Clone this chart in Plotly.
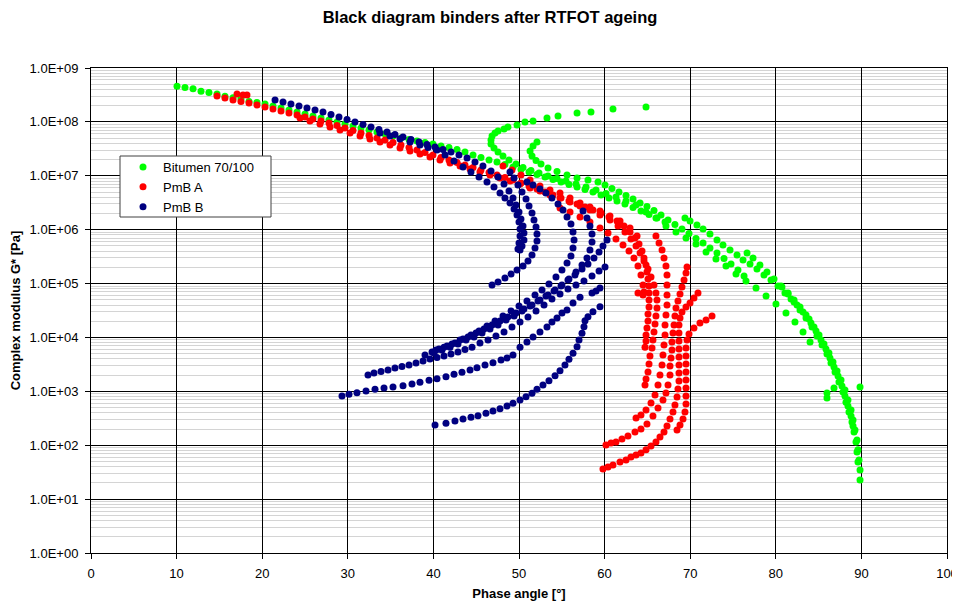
import plotly.graph_objects as go

# ---------------- data: (phase angle [deg], complex modulus G* [Pa]) ----------------
# Bitumen 70/100
bit_master = [(10.05,4.6e8),(10.98,4.35e8),(11.92,4.1e8),(12.85,3.7e8),(13.78,3.5e8),(14.72,3.3e8),(15.65,3.0e8),
              (16.59,2.8e8),(17.52,2.7e8),(18.46,2.4e8),(19.39,2.3e8),(20.33,2.15e8),(21.26,1.97e8),(22.2,1.81e8),
              (23.13,1.66e8),(24.07,1.53e8),(25.0,1.4e8),(25.93,1.29e8),(26.87,1.18e8),(27.8,1.08e8),(28.74,9.9e7),
              (29.67,9.15e7),(30.61,8.4e7),(31.54,7.7e7),(32.48,7.06e7),(33.41,6.5e7),(34.35,5.96e7),(35.28,5.47e7),
              (36.21,5.02e7),(37.15,4.72e7),(38.08,4.42e7),(39.02,4.15e7),(39.95,3.89e7),(40.89,3.57e7),(41.82,3.35e7),
              (42.76,3.07e7),(43.69,2.76e7),(44.63,2.43e7),(45.56,2.18e7),(46.5,1.96e7),(47.43,1.8e7),(48.36,1.62e7),
              (49.3,1.45e7),(50.23,1.31e7),(51.17,1.17e7),(52.1,1.06e7),(53.04,9.5e6),(53.97,8.5e6),(54.91,7.67e6),
              (55.84,6.9e6),(56.78,6.2e6),(57.71,5.57e6),(58.64,5.0e6),(59.58,4.4e6),(60.51,3.87e6),(61.45,3.4e6),
              (62.38,3.0e6),(63.32,2.58e6),(64.25,2.22e6),(65.19,1.91e6),(66.12,1.65e6),(67.06,1.39e6)]
bit_hook1 = [(64.84,1.89e8),(60.98,1.73e8),(58.41,1.53e8),(56.78,1.46e8),(54.56,1.29e8),(53.27,1.18e8),(51.64,1.04e8),
             (50.7,9.9e7),(49.77,8.77e7),(48.71,8.03e7),(48.25,7.37e7),(47.55,6.77e7),(47.2,6.22e7),(46.85,5.47e7),
             (46.73,4.62e7),(46.73,3.89e7),(47.08,3.28e7),(47.55,2.76e7),(48.13,2.33e7),(48.83,1.96e7),(49.65,1.65e7),
             (50.47,1.42e7),(51.4,1.25e7),(52.34,1.13e7),(53.39,9.86e6),(54.44,8.91e6),(55.49,7.98e6),(56.66,7.04e6),
             (57.83,6.19e6),(59.0,5.45e6),(60.16,4.69e6),(61.33,4.04e6),(62.5,3.4e6),(63.67,2.87e6),(64.84,2.13e6),
             (66.0,1.65e6),(67.17,1.17e6),(68.34,9.05e5),(69.51,7.0e5),(70.68,5.43e5),(71.85,3.85e5),(73.01,2.86e5),
             (74.18,2.12e5),(75.35,1.5e5),(76.52,1.12e5),(77.69,8.26e4),(78.86,5.88e4),(80.02,4.17e4),(81.19,2.84e4),
             (82.24,1.94e4),(83.18,1.26e4),(84.0,8.2e3)]
bit_hook2 = [(52.1,4.24e7),(51.64,3.57e7),(51.29,2.88e7),(51.52,2.33e7),(51.99,1.92e7),(52.57,1.65e7),(53.39,1.39e7),
             (54.44,1.2e7),(55.61,1.03e7),(56.78,9.1e6),(58.06,8.35e6),(59.23,7.67e6),(60.05,6.76e6),(60.86,5.81e6),
             (61.68,5.0e6),(62.5,4.3e6),(63.32,3.71e6),(64.14,3.13e6),(64.95,2.69e6),(65.77,2.27e6),(66.59,1.87e6),
             (67.41,1.51e6),(68.22,1.25e6),(69.04,1.03e6),(69.86,8.5e5),(70.68,6.85e5),(71.5,5.66e5),(72.31,4.56e5),
             (73.13,3.69e5),(73.95,2.92e5),(74.77,2.31e5),(75.58,1.78e5),(76.29,1.38e5)]
bit_iso_a = [(69.39,1.65e6),(69.98,1.45e6),(70.79,1.22e6),(71.5,1.03e6),(72.31,8.3e5),(73.13,6.43e5),(73.83,5.19e5),
             (74.65,4.19e5),(75.47,3.39e5),(76.17,2.74e5),(76.99,2.31e5),(77.8,1.86e5),(78.62,1.44e5),(79.44,1.16e5),
             (80.26,9.0e4),(81.07,6.7e4),(81.78,5.17e4),(82.48,4.0e4),(83.18,2.97e4),(83.88,2.2e4),(84.46,1.56e4),
             (85.05,1.11e4),(85.63,7.56e3),(86.21,5.15e3),(86.68,3.5e3),(87.15,2.38e3),(87.62,1.62e3),(88.08,1.06e3),
             (88.43,6.9e2),(88.79,4.5e2),(89.02,2.94e2),(89.25,1.92e2),(89.49,1.25e2),(89.6,8.2e1),(89.72,5.3e1),
             (89.84,3.47e1),(89.84,2.26e1)]
bit_iso_b = [(76.64,3.69e5),(77.34,2.98e5),(78.15,2.21e5),(78.97,1.64e5),(79.79,1.22e5),(80.61,9.0e4),(81.43,6.4e4),
             (82.13,4.54e4),(82.83,3.23e4),(83.53,2.3e4),(84.23,1.56e4),(84.81,1.06e4),(85.4,7.25e3),(85.98,4.93e3),
             (86.45,3.36e3),(86.92,2.29e3),(87.38,1.49e3),(87.85,9.7e2),(88.2,6.3e2),(88.55,4.14e2),(88.9,2.7e2),
             (89.14,1.76e2),(89.37,1.15e2),(89.49,7.5e1),(89.6,4.9e1)]
bit_iso_c = [(80.72,8.6e4),(81.43,6.7e4),(82.13,4.95e4),(82.83,3.68e4),(83.53,2.61e4),(84.11,1.85e4),(84.7,1.32e4),
             (85.28,8.97e3),(85.86,6.1e3),(86.33,4.16e3),(86.8,2.83e3),(87.27,1.93e3),(87.73,1.26e3),(88.08,8.2e2),
             (88.43,5.35e2),(88.79,3.49e2),(89.02,2.27e2)]
bit_single = [(89.84,1.2e3),(85.98,9.3e2),(85.98,7.5e2),(86.8,1.15e3)]

# PmB A
pma_master1 = [(14.72,3.02e8),(15.65,2.78e8),(16.59,2.55e8),(17.52,2.39e8),(18.46,2.24e8),(19.39,2.06e8),(20.33,1.89e8),
               (21.26,1.73e8),(22.2,1.59e8),(23.13,1.46e8),(24.07,1.34e8),(25.0,1.23e8),(25.93,1.13e8),(26.87,1.04e8),
               (27.8,9.5e7),(28.74,8.6e7),(29.67,7.7e7),(30.61,6.9e7),(31.54,6.2e7),(32.48,5.6e7),(33.41,5.0e7),
               (34.35,4.6e7),(35.28,4.15e7),(36.21,3.72e7),(37.15,3.35e7),(38.08,3.01e7),(39.02,2.7e7),(39.95,2.43e7),
               (40.89,2.18e7),(41.82,1.96e7),(42.76,1.76e7),(43.69,1.59e7),(44.63,1.42e7),(45.56,1.28e7),(46.5,1.15e7),
               (47.43,1.03e7),(48.36,9.3e6),(49.3,8.35e6),(50.23,7.35e6),(51.17,6.46e6),(52.1,5.68e6),(53.04,5.0e6),
               (53.97,4.4e6),(54.91,3.87e6),(55.84,3.4e6),(56.78,3.0e6),(57.71,2.63e6),(58.64,2.32e6),(59.58,2.04e6),
               (60.51,1.72e6),(61.45,1.45e6),(62.27,1.17e6),(62.97,9.05e5),(63.55,7.0e5),(64.02,5.43e5),(64.37,4.02e5),
               (64.6,2.98e5),(64.84,2.21e5),(64.95,1.64e5),(65.07,1.22e5),(65.19,9.0e4),(65.19,6.7e4),(65.19,4.95e4),
               (65.19,3.68e4),(65.07,2.72e4),(65.07,2.02e4),(64.95,1.5e4),(64.84,1.11e4),(64.84,8.6e3),(64.72,6.6e3)]
pma_master2 = [(24.42,1.18e8),(25.58,1.04e8),(26.75,9.15e7),(27.92,8.03e7),(29.09,7.06e7),(30.26,6.22e7),(31.43,5.47e7),
               (32.59,4.82e7),(33.76,4.24e7),(34.93,3.72e7),(36.1,3.28e7),(37.27,2.88e7),(38.43,2.54e7),(39.6,2.23e7),
               (40.77,1.96e7),(41.94,1.73e7),(43.11,1.52e7),(44.28,1.34e7),(45.44,1.18e7),(46.61,1.03e7),(47.78,9.1e6),
               (48.95,8.0e6),(50.12,7.04e6),(51.29,5.94e6),(52.45,5.22e6),(53.62,4.4e6),(54.79,3.87e6),(55.96,3.26e6),
               (57.13,2.75e6),(58.29,2.32e6),(59.46,1.87e6),(60.63,1.51e6),(61.57,1.17e6),(62.38,9.05e5),(63.08,6.7e5),
               (63.67,4.98e5),(64.14,3.69e5),(64.6,2.62e5),(65.07,1.86e5),(65.42,1.32e5),(65.77,9.4e4),(66.0,6.7e4),
               (66.12,4.95e4),(66.12,3.52e4),(66.0,2.5e4),(65.89,1.78e4),(65.77,1.26e4),(65.65,8.97e3),(65.54,6.4e3),
               (65.3,4.53e3),(65.19,3.21e3),(65.07,2.29e3),(64.84,1.69e3),(64.72,1.31e3)]
pma_upper = [(48.13,1.52e7),(49.18,1.28e7),(50.23,1.03e7),(51.29,8.35e6),(52.45,6.46e6),(53.62,5.45e6),(54.79,4.79e6),
             (55.96,3.87e6),(57.13,3.13e6),(58.29,2.63e6),(59.46,2.22e6),(60.63,1.79e6),(61.8,1.45e6),(62.97,1.07e6),
             (63.79,7.6e5)]
pma_lower = [(54.79,2.52e6),(55.96,2.13e6),(57.13,1.72e6),(58.29,1.39e6),(59.46,1.07e6),(60.4,8.7e5),(61.33,6.7e5),
             (62.15,5.19e5),(62.85,4.02e5),(63.43,2.98e5),(63.9,2.12e5),(64.25,1.44e5),(64.49,9.4e4),(64.6,7.0e4),
             (63.9,6.7e4),(64.49,6.1e4)]
pma_iso3 = [(66.0,7.6e5),(66.36,5.66e5),(66.71,4.19e5),(66.94,2.98e5),(67.17,2.12e5),(67.29,1.44e5),(67.29,9.4e4),
            (67.29,6.1e4),(67.29,4.0e4),(67.17,2.61e4),(67.06,1.7e4),(67.06,1.11e4),(66.94,7.25e3),(66.82,4.72e3),
            (66.71,3.08e3),(66.47,2.01e3),(66.24,1.31e3),(65.89,8.55e2),(65.42,6.07e2),(64.84,4.5e2),(64.25,3.64e2),
            (63.67,3.2e2)]
pma_iso4 = [(69.63,2.03e5),(69.51,1.57e5),(69.28,1.16e5),(69.04,8.6e4),(68.81,6.4e4),(68.57,4.74e4),(68.34,3.52e4),
            (68.22,2.5e4),(68.11,1.7e4),(67.99,1.21e4),(67.87,8.2e3),(67.87,5.85e3),(67.76,4.16e3),(67.64,2.95e3),
            (67.64,2.01e3),(67.41,1.31e3),(67.17,9.3e2),(66.82,6.9e2),(66.24,4.91e2),(65.65,3.49e2),(64.95,2.48e2),
            (64.25,2.0e2),(63.55,1.76e2),(62.73,1.48e2),(62.03,1.3e2),(61.33,1.15e2),(60.75,1.1e2),(60.16,1.01e2)]
pma_iso5 = [(70.91,6.7e4),(70.44,5.4e4),(69.98,4.36e4),(69.51,3.68e4),(69.04,2.97e4),(68.81,2.3e4),(68.69,1.7e4),
            (68.69,1.21e4),(68.69,8.6e3),(68.69,6.1e3),(68.69,4.33e3),(68.69,3.08e3),(68.69,2.19e3),(68.69,1.56e3),
            (68.57,1.1e3),(68.46,7.85e2),(68.22,5.58e2),(67.99,4.14e2),(67.64,3.07e2),(67.29,2.27e2),(66.94,1.76e2),
            (66.47,1.42e2),(66.0,1.15e2),(65.42,9.7e1),(64.84,8.2e1),(64.25,7.2e1),(63.67,6.6e1),(63.08,6.05e1),
            (62.5,5.3e1),(61.8,4.9e1),(60.98,4.3e1),(60.4,3.95e1),(59.81,3.62e1)]
pma_iso6 = [(72.55,2.5e4),(71.85,2.11e4),(71.14,1.85e4),(70.44,1.5e4),(69.86,1.16e4),(69.63,8.97e3),(69.51,6.4e3),
            (69.51,4.53e3),(69.51,3.21e3),(69.51,2.29e3),(69.51,1.62e3),(69.51,1.15e3),(69.51,8.2e2),(69.51,5.8e2),
            (69.39,4.14e2),(69.16,3.07e2),(68.81,2.37e2),(68.46,1.92e2)]
pma_single = [(17.06,3.29e8),(17.76,3.15e8),(18.22,3.15e8)]

# PmB B
pmb_master1 = [(21.5,2.55e8),(22.43,2.34e8),(23.36,2.15e8),(24.3,1.97e8),(25.23,1.81e8),(26.17,1.66e8),(27.1,1.53e8),
               (28.04,1.37e8),(28.97,1.23e8),(29.91,1.11e8),(30.84,9.9e7),(31.78,8.95e7),(32.71,8.03e7),(33.64,7.22e7),
               (34.58,6.5e7),(35.51,5.83e7),(36.45,5.24e7),(37.38,4.72e7),(38.32,4.24e7),(39.25,3.81e7),(40.19,3.42e7),
               (41.12,3.07e7),(42.06,2.76e7),(42.99,2.43e7),(43.93,2.14e7),(44.86,1.8e7),(45.79,1.52e7),(46.73,1.23e7),
               (47.55,9.5e6),(48.25,7.04e6),(48.83,5.22e6),(49.3,3.87e6),(49.65,2.87e6),(50.0,2.13e6),(50.23,1.58e6),
               (50.47,1.17e6),(50.58,8.7e5),(50.58,6.43e5),(50.35,4.98e5),(50.12,4.19e5)]
pmb_master2 = [(33.76,6.22e7),(34.93,5.47e7),(36.1,4.82e7),(37.27,4.24e7),(38.43,3.72e7),(39.37,3.35e7),(40.42,3.01e7),
               (41.36,2.43e7),(42.41,1.88e7),(43.46,1.45e7),(44.39,1.18e7),(45.33,9.5e6),(46.26,7.67e6),(47.08,6.19e6),
               (47.78,4.79e6),(48.36,3.87e6),(48.95,3.13e6),(49.42,2.42e6),(49.77,1.87e6),(50.0,1.39e6),(50.12,1.03e6),
               (50.12,7.6e5),(50.0,5.66e5),(49.88,4.38e5)]
pmb_iso2 = [(48.95,1.18e7),(49.42,9.1e6),(49.88,6.76e6),(50.35,5.0e6),(50.82,3.71e6),(51.17,2.75e6),(51.52,2.04e6),
            (51.75,1.51e6),(51.99,1.12e6),(52.1,8.3e5),(52.1,6.17e5),(51.87,4.56e5),(51.52,3.39e5),(51.05,2.62e5),
            (50.47,2.12e5),(49.77,1.78e5),(49.07,1.5e5),(48.36,1.27e5),(47.55,1.07e5),(46.85,9.4e4)]
pmb_iso3 = [(50.93,7.67e6),(51.64,6.76e6),(52.45,5.68e6),(53.15,4.79e6),(53.85,3.87e6),(54.56,3.0e6),(55.14,2.32e6),
            (55.61,1.72e6),(56.07,1.27e6),(56.31,9.05e5),(56.43,6.43e5),(56.31,4.56e5),(56.07,3.25e5),(55.61,2.41e5),
            (55.02,1.78e5),(54.32,1.32e5),(53.5,9.8e4),(52.69,7.6e4),(51.87,6.1e4),(50.93,4.74e4),(50.0,3.84e4),
            (49.07,3.1e4),(48.13,2.5e4),(47.2,2.02e4),(46.26,1.63e4),(45.33,1.32e4),(44.39,1.11e4),(43.46,9.4e3),
            (42.52,7.9e3),(41.59,6.95e3),(40.65,6.1e3),(39.84,5.37e3),(39.02,4.72e3)]
pmb_iso4 = [(57.48,2.22e6),(57.94,1.65e6),(58.29,1.17e6),(58.53,8.3e5),(58.53,5.9e5),(58.29,4.19e5),(57.94,2.98e5),
            (57.36,2.21e5),(56.66,1.64e5),(55.84,1.22e5),(55.02,9.4e4),(54.21,7.6e4),(53.39,6.1e4),(52.45,4.95e4),
            (51.52,4.0e4),(50.58,3.38e4),(49.65,2.84e4),(48.71,2.39e4),(47.78,2.02e4),(46.85,1.7e4),(45.91,1.44e4),
            (44.98,1.21e4),(44.04,1.02e4),(43.11,8.97e3),(42.17,7.56e3),(41.24,6.6e3),(40.3,5.85e3)]
pmb_iso5 = [(60.28,6.43e5),(59.81,4.98e5),(59.35,3.85e5),(58.76,2.98e5),(58.06,2.31e5),(57.36,1.86e5),(56.54,1.44e5),
            (55.72,1.16e5),(54.91,9.0e4),(54.09,7.3e4),(53.15,5.88e4),(52.22,4.74e4),(51.29,3.84e4),(50.35,3.1e4),
            (49.42,2.5e4),(48.48,2.11e4),(47.55,1.7e4),(46.61,1.44e4),(45.68,1.21e4),(44.74,1.02e4),(43.81,8.97e3),
            (42.87,7.56e3),(41.94,6.6e3),(41.0,5.85e3),(40.07,5.15e3)]
pmb_iso6 = [(32.36,2.01e3),(33.06,2.19e3),(33.88,2.33e3),(34.7,2.49e3),(35.51,2.71e3),(36.33,2.89e3),(37.15,3.08e3),
            (37.97,3.36e3),(38.79,3.66e3),(39.6,3.98e3),(40.42,4.24e3),(41.24,4.53e3),(42.06,4.93e3),(42.87,5.37e3),
            (43.69,5.98e3),(44.51,6.6e3),(45.44,7.9e3),(46.38,8.97e3),(47.31,1.06e4),(48.25,1.26e4),(49.18,1.56e4),
            (50.12,1.94e4),(51.05,2.39e4),(51.99,3.1e4),(52.92,4.0e4),(53.85,5.17e4),(54.79,6.4e4),(55.72,7.9e4),
            (56.66,9.4e4),(57.59,1.12e5),(58.53,1.38e5),(59.35,1.71e5),(60.05,2.03e5)]
pmb_iso7 = [(29.32,8.2e2),(30.14,8.8e2),(31.07,9.45e2),(32.13,1.01e3),(33.18,1.09e3),(34.23,1.15e3),(35.28,1.2e3),
            (36.45,1.27e3),(37.5,1.37e3),(38.43,1.47e3),(39.49,1.6e3),(40.42,1.72e3),(41.47,1.87e3),(42.41,2.07e3),
            (43.34,2.25e3),(44.28,2.49e3),(45.09,2.75e3),(46.03,3.08e3),(46.96,3.4e3),(47.9,3.81e3),(48.6,4.16e3),
            (49.3,4.72e3),(50.12,6.6e3),(50.93,8.2e3),(51.64,1.02e4),(52.45,1.26e4),(53.27,1.56e4),(53.85,1.94e4),
            (54.44,2.3e4),(55.02,2.84e4),(55.61,3.23e4),(56.31,4.36e4),(57.13,5.6e4),(58.53,6.7e4),(59.0,7.3e4),
            (59.46,8.26e4)]
pmb_iso8 = [(40.19,2.37e2),(41.47,2.55e2),(42.52,2.82e2),(43.46,3.07e2),(44.39,3.3e2),(45.21,3.53e2),(46.14,3.91e2),
            (46.96,4.32e2),(47.78,4.76e2),(48.6,5.34e2),(49.3,6.0e2),(50.12,6.9e2),(50.82,7.96e2),(51.52,9.2e2),
            (52.1,1.09e3),(52.8,1.31e3),(53.5,1.58e3),(54.21,1.95e3),(54.79,2.41e3),(55.37,3.08e3),(55.84,3.93e3),
            (56.31,5.08e3),(56.78,6.7e3),(57.01,8.97e3),(57.36,1.19e4),(57.59,1.58e4),(57.71,2.04e4),(58.06,2.43e4),
            (58.64,3.0e4),(59.46,3.72e4)]

series_names = ["Bitumen 70/100", "PmB A", "PmB B"]
series_colors = ["#00FF00", "#FF0000", "#000080"]
series_curves = [
    [bit_master, bit_hook1, bit_hook2, bit_iso_a, bit_iso_b, bit_iso_c, bit_single],
    [pma_master1, pma_master2, pma_upper, pma_lower, pma_iso3, pma_iso4, pma_iso5, pma_iso6, pma_single],
    [pmb_master1, pmb_master2, pmb_iso2, pmb_iso3, pmb_iso4, pmb_iso5, pmb_iso6, pmb_iso7, pmb_iso8],
]

x_ticks = [0, 10, 20, 30, 40, 50, 60, 70, 80, 90, 100]
y_tickvals = [1e0, 1e1, 1e2, 1e3, 1e4, 1e5, 1e6, 1e7, 1e8, 1e9]
y_ticktext = ["1.0E+00", "1.0E+01", "1.0E+02", "1.0E+03", "1.0E+04",
              "1.0E+05", "1.0E+06", "1.0E+07", "1.0E+08", "1.0E+09"]

# ---------------- figure ----------------
# the page body has an 8 px margin, so the figure is 952x593 and sits at (8, 8)
W, H, OFF = 952, 593, 8
PL, PR, PT, PB = 91 - OFF, 947 - OFF, 68 - OFF, 553 - OFF   # plot area in figure pixels
PW, PH = PR - PL, PB - PT

def px2paper_x(px):
    return (px - OFF - PL) / PW

def px2paper_y(py):
    return (PB - (py - OFF)) / PH

FONT = "Liberation Sans, Arial, sans-serif"
fig = go.Figure()
for name, color, curves in zip(series_names, series_colors, series_curves):
    for i, c in enumerate(curves):
        fig.add_trace(go.Scatter(
            x=[p[0] for p in c], y=[p[1] for p in c], mode="markers",
            marker=dict(color=color, size=7, line=dict(width=0)),
            name=name, legendgroup=name, showlegend=(i == 0)))

minor_vals = [m * 10 ** e for e in range(0, 9) for m in range(2, 10)]

fig.update_layout(
    width=W, height=H,
    margin=dict(l=PL, r=W - PR, t=PT, b=H - PB, autoexpand=False),
    paper_bgcolor="white", plot_bgcolor="white",
    font=dict(family=FONT, size=13, color="black"),
    title=dict(text="<b>Black diagram binders after RTFOT ageing</b>", x=(490 - OFF) / W, xanchor="center",
               y=1 - (17 - OFF) / H, yanchor="middle", font=dict(size=16.5, family=FONT)),
    xaxis=dict(range=[0, 100], tickvals=x_ticks, showgrid=True, gridcolor="black", gridwidth=1,
               showline=True, linecolor="black", linewidth=1, mirror=True, ticks="outside", ticklen=5,
               tickcolor="black", zeroline=False, tickfont=dict(size=13), automargin=False,
               ticklabelstandoff=3,
               title=dict(text="<b>Phase angle [°]</b>", font=dict(size=13), standoff=10)),
    yaxis=dict(type="log", range=[0, 9], tickvals=y_tickvals, ticktext=y_ticktext, showgrid=True,
               gridcolor="black", gridwidth=1, showline=True, linecolor="black", linewidth=1, mirror=True,
               ticks="outside", ticklen=5, tickcolor="black", zeroline=False, tickfont=dict(size=13),
               automargin=False, ticklabelstandoff=4,
               minor=dict(tickmode="array", tickvals=minor_vals, showgrid=True, gridcolor="#d4d4d4",
                          gridwidth=1, ticks=""),
               title=dict(text="<b>Complex modulus G* [Pa]</b>", font=dict(size=13), standoff=10)),
    legend=dict(x=px2paper_x(123), y=px2paper_y(152), xanchor="left", yanchor="top",
                bgcolor="rgba(0,0,0,0)", borderwidth=0, tracegroupgap=0, font=dict(size=13),
                itemsizing="trace"),
    shapes=[dict(type="rect", xref="paper", yref="paper", layer="above",
                 x0=px2paper_x(120), x1=px2paper_x(271), y0=px2paper_y(217), y1=px2paper_y(156),
                 fillcolor="white", line=dict(color="#404040", width=1))],
)

fig.write_html("out.html", post_script="document.body.style.overflow='hidden';")
